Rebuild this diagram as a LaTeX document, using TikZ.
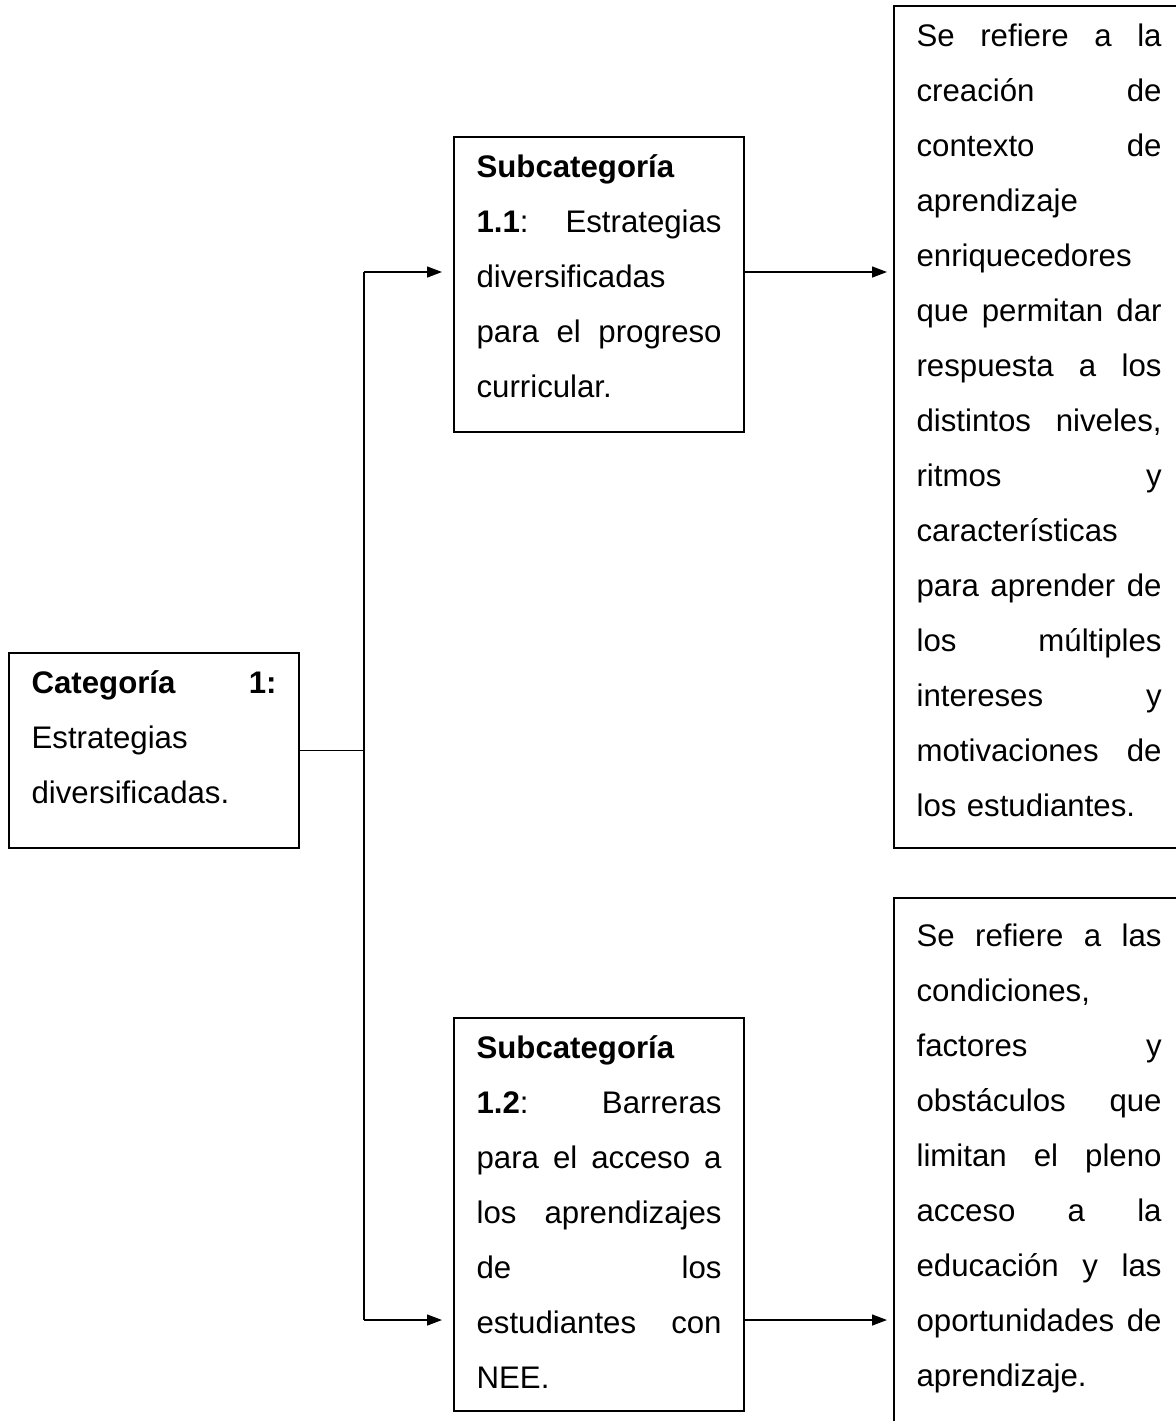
\documentclass[tikz,border=0pt]{standalone}
\usepackage{fontspec}
\setmainfont{Liberation Sans}
\usetikzlibrary{arrows.meta}

\newcommand{\jline}[1]{\leavevmode{\frenchspacing\spaceskip=0.278em plus 1fill\relax
  \hbox to \hsize{#1}}\strut\\}
\newcommand{\pline}[1]{\leavevmode#1\strut\\}
\newcommand{\lline}[2][16pt]{\leavevmode#2\strut\rule[-#1]{0pt}{#1}}

\begin{document}
\begin{tikzpicture}[x=0.5pt, y=-0.5pt,
  main/.style = {draw, line width=1.1pt, anchor=north west, text width=122.5pt,
    inner xsep=11.25pt, inner ysep=1pt, font={\fontsize{15.6}{27.5}\selectfont}},
  line/.style = {line width=0.7pt},
  arr/.style = {line, -{Triangle[length=7.5pt,width=5.5pt]}, shorten >=5.5pt},
  arrr/.style = {arr, shorten >=3pt}]
\useasboundingbox (0,0) rectangle (1175,1421);

	\node [main] (cat) at (8, 652) {\jline{\textbf{Categoría 1:}}
		\pline{Estrategias}
		\lline[21.25pt]{diversificadas.}};
	\node [main] (sub11) at (453, 136) {\pline{\textbf{Subcategoría}}
		\jline{\textbf{1.1}: Estrategias}
		\pline{diversificadas}
		\jline{para el progreso}
		\lline{curricular.}};
	\node [main] (sub12) at (453, 1017) {\pline{\textbf{Subcategoría}}
		\jline{\textbf{1.2}: Barreras}
		\jline{para el acceso a}
		\jline{los aprendizajes}
		\jline{de los}
		\jline{estudiantes con}
		\lline[10.25pt]{NEE.}};
	\node [main] (r1) at (893, 5) {\jline{Se refiere a la}
		\jline{creación de}
		\jline{contexto de}
		\pline{aprendizaje}
		\pline{enriquecedores}
		\jline{que permitan dar}
		\jline{respuesta a los}
		\jline{distintos niveles,}
		\jline{ritmos y}
		\pline{características}
		\jline{para aprender de}
		\jline{los múltiples}
		\jline{intereses y}
		\jline{motivaciones de}
		\lline[14.75pt]{los estudiantes.}};
	\node [main, inner ysep=5pt] (r2) at (893, 897) {\jline{Se refiere a las}
		\pline{condiciones,}
		\jline{factores y}
		\jline{obstáculos que}
		\jline{limitan el pleno}
		\jline{acceso a la}
		\jline{educación y las}
		\jline{oportunidades de}
		\lline[24pt]{aprendizaje.}};

	\coordinate (t) at (364, 272);
	\coordinate (b) at (364, 1320);

	\draw[line] (cat.east) -- (cat.east -| t);
	\draw[line] (t) -- (b);
	\draw[arr] (t) -- (t -| sub11.west);
	\draw[arr] (b) -- (b -| sub12.west);
	\draw[arrr] (t -| sub11.east) -- (t -| r1.west);
	\draw[arrr] (b -| sub12.east) -- (b -| r2.west);

\end{tikzpicture}
\end{document}
